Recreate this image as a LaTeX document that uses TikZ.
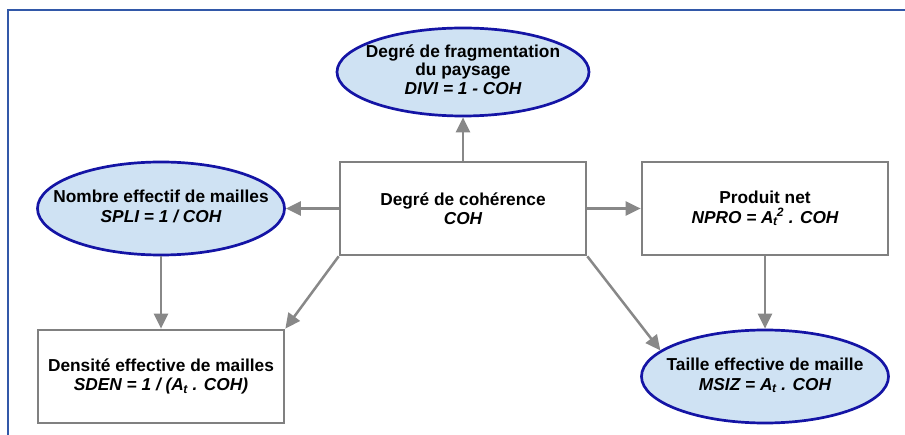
\documentclass[tikz,border=0pt]{standalone}
\usepackage{fontspec}
\setmainfont{Liberation Sans}
\usetikzlibrary{arrows.meta,shapes.geometric}
\definecolor{boxgray}{RGB}{128,128,128}
\definecolor{arrgray}{RGB}{136,136,136}
\definecolor{ellfill}{RGB}{207,226,243}
\definecolor{elldraw}{RGB}{20,20,165}
\definecolor{frameblue}{RGB}{50,88,168}
\newcommand{\ellt}[1]{\makebox[0pt]{\begin{tabular}{@{}c@{}}#1\end{tabular}}}
\newcommand{\At}{A\textsubscript{\kern-0.5pt t}}
\begin{document}
\begin{tikzpicture}[x=1pt,y=-1pt,
  every node/.style={font=\fontsize{17.3}{19.5}\selectfont\bfseries, align=center},
  boxnode/.style={draw=boxgray, line width=2.7pt, fill=white, minimum width=246pt, minimum height=93pt, inner sep=0pt},
  ellnode/.style={ellipse, draw=elldraw, line width=2.7pt, fill=ellfill, minimum width=247pt, minimum height=93pt, inner sep=0pt},
  conn/.style={draw=arrgray, line width=2.5pt, -{Triangle[length=15pt,width=14pt]}}]
\useasboundingbox (0,0) rectangle (905,435);
\fill[white] (0,0) rectangle (905,435);
\draw[frameblue, line width=2.5pt] (8,436) -- (8,10) -- (906,10);

\node[ellnode, minimum width=252pt, minimum height=88pt, font=\fontsize{17.3}{18.5}\selectfont\bfseries] (divi) at (463,72) {\ellt{Degré de fragmentation\\du paysage\\\itshape DIVI = 1 - COH}};
\node[boxnode] (coh) at (463,208.5) {Degré de cohérence\\\itshape COH};
\node[ellnode] (spli) at (161,208.5) {\ellt{Nombre effectif de mailles\\\itshape SPLI = 1 / COH}};
\node[boxnode] (npro) at (765,208.5) {Produit net\\\itshape NPRO = \At\textsuperscript{\kern-1pt 2} . COH};
\node[boxnode] (sden) at (161,376.5) {Densité effective de mailles\\\itshape SDEN = 1 / (\At\ . COH)};
\node[ellnode] (msiz) at (765,376.5) {\ellt{Taille effective de maille\\\itshape MSIZ = \At\ . COH}};

\draw[conn] (coh.north) -- (divi.south);
\draw[conn] (coh.west) -- (spli.east);
\draw[conn] (coh.east) -- (npro.west);
\draw[conn] (spli.south) -- (sden.north);
\draw[conn] (coh.south west) -- (sden.north east);
\draw[conn] (coh.south east) -- (msiz.166);
\draw[conn] (npro.south) -- (msiz.north);
\end{tikzpicture}
\end{document}
